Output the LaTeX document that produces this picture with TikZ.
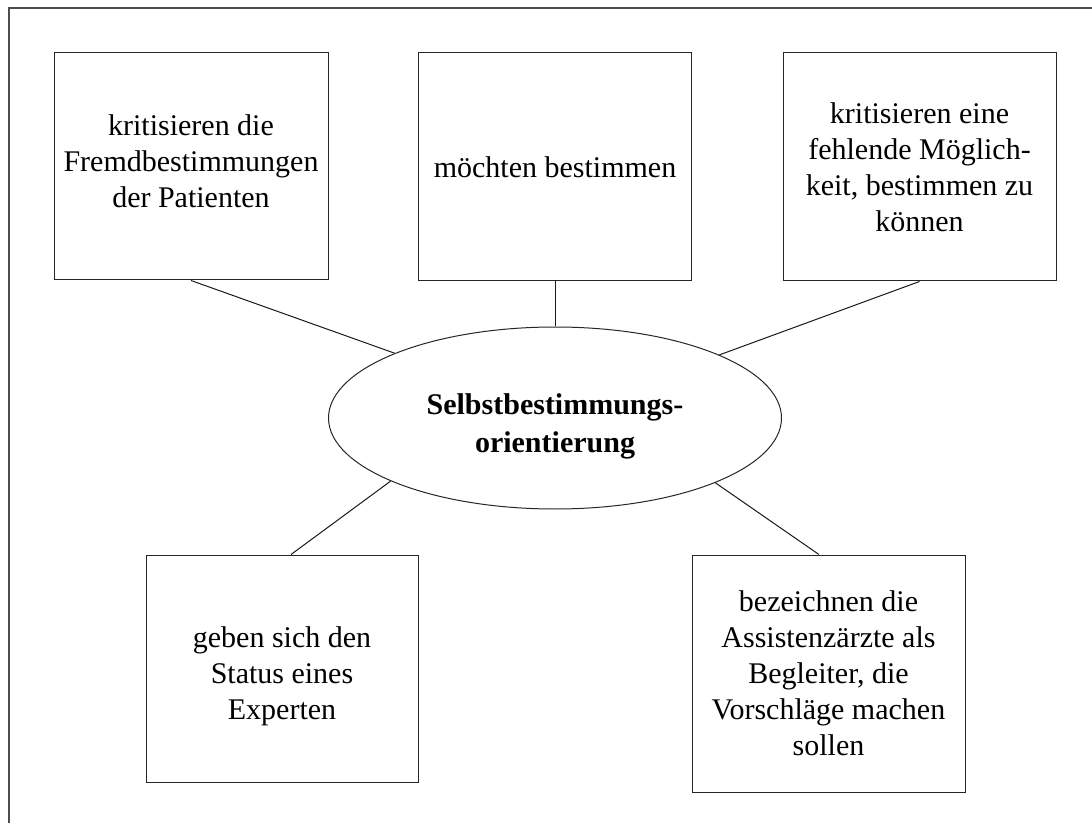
\documentclass[tikz,border=0pt]{standalone}
\usepackage{fontspec}
\setmainfont{Liberation Serif}
\usetikzlibrary{shapes.geometric,calc}
% text block moved vertically inside its node without changing the node size
\newcommand{\shiftedlines}[2]{\raisebox{#1}[\height][\depth]{\begin{tabular}{@{}c@{}}#2\end{tabular}}}
\begin{document}
\begin{tikzpicture}[x=0.75pt,y=-0.75pt,
  every node/.style={font=\fontsize{22.5pt}{27pt}\selectfont, align=center, inner sep=0pt},
  itembox/.style={draw=black!85, line width=0.75pt, rectangle},
  core/.style={draw=black!85, line width=0.75pt, ellipse, font=\fontsize{22.5pt}{28pt}\selectfont\bfseries},
  link/.style={draw=black!90, line width=0.75pt},
  frame/.style={draw=black!70, line width=0.9pt}]
  \useasboundingbox (0,0) rectangle (1092,823);
  % open frame: top and left edges only
  \coordinate (fr) at (1092,8);
  \coordinate (fc) at (9,8);
  \coordinate (fb) at (9,823);
  \draw[frame] (fr) -- (fc) -- (fb);

  % central concept
  \node[core, minimum width=339.75pt, minimum height=136.5pt] (c) at (555,418)
    {\shiftedlines{-6pt}{Selbstbestimmungs-\\orientierung}};

  % upper row
  \node[itembox, minimum width=205.5pt, minimum height=170.25pt] (b1) at (191,166.5)
    {\shiftedlines{2pt}{kritisieren die\\Fremdbestimmungen\\der Patienten}};
  \node[itembox, minimum width=204.75pt, minimum height=171pt] (b2) at (555,167)
    {möchten bestimmen};
  \node[itembox, minimum width=204.75pt, minimum height=171pt] (b3) at (919.5,167)
    {kritisieren eine\\fehlende Möglich-\\keit, bestimmen zu\\können};

  % lower row
  \node[itembox, minimum width=204pt, minimum height=170.25pt] (b4) at (282,668.5)
    {\shiftedlines{-6pt}{geben sich den\\Status eines\\Experten}};
  \node[itembox, minimum width=204.75pt, minimum height=177.75pt] (b5) at (828.5,673.5)
    {\shiftedlines{-2pt}{bezeichnen die\\Assistenzärzte als\\Begleiter, die\\Vorschläge machen\\sollen}};

  % connectors
  \draw[link] (b1.south) -- (c.158.5);
  \draw[link] (b2.south) -- (c.north);
  \draw[link] (b3.south) -- (c.21.5);
  \draw[link] (c.201.5) -- ($(b4.north west)!0.533!(b4.north east)$);
  \draw[link] (c.338.5) -- ($(b5.north west)!0.465!(b5.north east)$);
\end{tikzpicture}
\end{document}
